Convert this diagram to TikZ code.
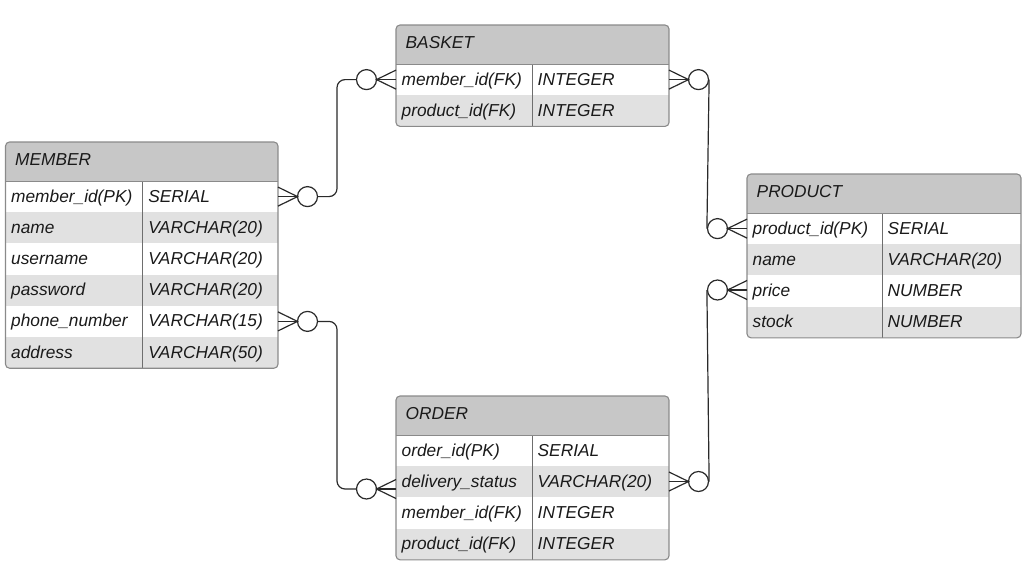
\documentclass[tikz,border=0pt]{standalone}
\usepackage{fontspec}
\setmainfont{Liberation Sans}
\usetikzlibrary{calc}

\definecolor{hdrgray}{HTML}{C7C7C7}
\definecolor{rowgray}{HTML}{E1E1E1}
\definecolor{framegray}{HTML}{8A8A8A}
\definecolor{divgray}{HTML}{6E6E6E}
\definecolor{inkcol}{HTML}{1A1A1A}
\definecolor{linkcol}{HTML}{2A2A2A}

\tikzset{
  cell/.style={anchor=base west, inner sep=0pt, text=inkcol,
    font=\fontsize{17.3}{20}\selectfont\itshape},
  tabletitle/.style={anchor=base west, inner sep=0pt, text=inkcol,
    font=\fontsize{17.3}{20}\selectfont\itshape},
  frame/.style={draw=framegray, line width=1.1pt, rounded corners=4pt},
  divline/.style={draw=divgray, line width=1pt},
  link/.style={draw=linkcol, line width=1.2pt},
  endcircle/.style={circle, draw=linkcol, line width=1.2pt, fill=white,
    minimum size=20pt, inner sep=0pt},
}

% entity table: #1 id, #2 left, #3 top, #4 right, #5 column divider,
% #6 number of rows, #7 title, #8 rows as name/type
\newcommand{\ertable}[8]{%
  \pgfmathsetmacro{\tabB}{#3+39+31.2*#6}%
  \begin{scope}
    \clip[rounded corners=4pt] (#2,#3) rectangle (#4,\tabB);
    \fill[white] (#2,#3) rectangle (#4,\tabB);
    \fill[hdrgray] (#2,#3) rectangle (#4,#3+39);
    \foreach \nm/\ty [count=\i] in {#8} {
      \pgfmathsetmacro{\rowT}{#3+39+31.2*(\i-1)}
      \pgfmathtruncatemacro{\rowOdd}{mod(\i,2)}
      \ifnum\rowOdd=0 \fill[rowgray] (#2,\rowT) rectangle (#4,\rowT+31.2); \fi
      \node[cell] (#1-n\i) at (#2+5.5,\rowT+21.1) {\nm};
      \node[cell] (#1-t\i) at (#5+5.5,\rowT+21.1) {\ty};
    }
  \end{scope}
  \draw[divline] (#5,#3+39) -- (#5,\tabB);
  \draw[draw=framegray, line width=1pt] (#2,#3+39) -- (#4,#3+39);
  \draw[frame] (#2,#3) rectangle (#4,\tabB);
  \node[tabletitle] (#1) at (#2+9.5,#3+23.5) {#7};
}

% crow's foot with circle: #1 name, #2 table edge x, #3 y, #4 side (+1 / -1)
\newcommand{\crowfoot}[4]{%
  \coordinate (#1-e) at (#2,#3);
  \coordinate (#1-tip) at (#2+#4*19.5,#3);
  \node[endcircle] (#1) at (#2+#4*29.5,#3) {};
  \draw[link] ($(#1-e)+(0,-9.5)$) -- (#1-tip) -- ($(#1-e)+(0,9.5)$);
  \draw[link] (#1-e) -- (#1-tip);
}

\begin{document}
\begin{tikzpicture}[x=1pt, y=-1pt]
  \useasboundingbox (0,0) rectangle (1027,571);

  \ertable{member}{5.5}{142}{278}{142.7}{6}{MEMBER}{%
    member\_id(PK)/SERIAL, name/VARCHAR(20), username/VARCHAR(20),
    password/VARCHAR(20), phone\_number/VARCHAR(15), address/VARCHAR(50)}
  \ertable{basket}{396}{25}{669}{532}{2}{BASKET}{%
    member\_id(FK)/INTEGER, product\_id(FK)/INTEGER}
  \ertable{order}{396}{396}{669}{532}{4}{ORDER}{%
    order\_id(PK)/SERIAL, delivery\_status/VARCHAR(20),
    member\_id(FK)/INTEGER, product\_id(FK)/INTEGER}
  \ertable{product}{747}{174}{1021}{882}{4}{PRODUCT}{%
    product\_id(PK)/SERIAL, name/VARCHAR(20), price/NUMBER, stock/NUMBER}

  % relationship ends
  \crowfoot{memA}{278}{196.6}{1}
  \crowfoot{memB}{278}{321.4}{1}
  \crowfoot{basL}{396}{79.6}{-1}
  \crowfoot{basR}{669}{79.6}{1}
  \crowfoot{ordL}{396}{489}{-1}
  \crowfoot{ordR}{669}{481.5}{1}
  \crowfoot{proA}{747}{228.6}{-1}
  \crowfoot{proB}{747}{290}{-1}

  % relationship lines
  \draw[link, rounded corners=8pt] (memA.east) -| ($(memA.east)!0.5!(basL.west)$) |- (basL.west);
  \draw[link, rounded corners=8pt] (memB.east) -| ($(memB.east)!0.5!(ordL.west)$) |- (ordL.west);
  \draw[link] (basR.east) -- (proA.west);
  \draw[link] (ordR.east) -- (proB.west);
\end{tikzpicture}
\end{document}
